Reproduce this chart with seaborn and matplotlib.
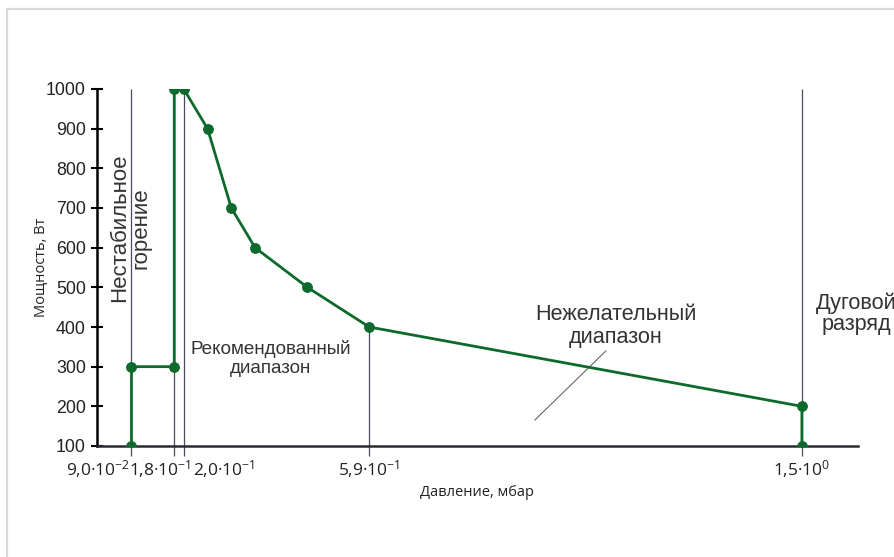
import matplotlib
matplotlib.use("Agg")
import matplotlib.pyplot as plt
import matplotlib.transforms as mtransforms
import seaborn as sns
import pandas as pd
from matplotlib.lines import Line2D

# ---- data ----
pressure = [0.09, 0.09, 0.18, 0.18, 0.20, 0.25, 0.30, 0.35, 0.46, 0.59, 1.50, 1.50]
power = [100, 300, 300, 1000, 1000, 900, 700, 600, 500, 400, 200, 100]
xtick_values = [0.09, 0.18, 0.20, 0.59, 1.50]
xtick_labels = [r"9,0·$\mathregular{10^{-2}}$", r"1,8·$\mathregular{10^{-1}}$",
                r"2,0·$\mathregular{10^{-1}}$", r"5,9·$\mathregular{10^{-1}}$",
                r"1,5·$\mathregular{10^{0}}$"]
ytick_values = [100, 200, 300, 400, 500, 600, 700, 800, 900, 1000]
guide_x = [0.09, 0.18, 0.20, 0.59, 1.50]
guide_top = [1000, 1000, 1000, 400, 1000]

df = pd.DataFrame({"p": pressure, "w": power})

sns.set_theme(style="white")
plt.rcParams["font.family"] = ["Liberation Sans", "DejaVu Sans"]
plt.rcParams["mathtext.fontset"] = "custom"
plt.rcParams["mathtext.rm"] = "Open Sans"

fig = plt.figure(figsize=(8.94, 5.57), dpi=100)
ax = fig.add_axes([97 / 894, 1 - 446 / 557, (858 - 97) / 894, (446 - 89) / 557])

green = "#0d6a2c"
guide_col = "#4b4b5c"

ax.vlines(guide_x, [100] * len(guide_x), guide_top, color=guide_col, lw=0.9, zorder=1)

sns.lineplot(data=df, x="p", y="w", sort=False, estimator=None, ax=ax,
             color=green, lw=2.0, marker="o", markersize=7,
             markeredgecolor=green, markerfacecolor=green, zorder=3)

ax.set_xlim(0.0175, 1.618)
ax.set_ylim(100, 1000)

ax.set_yticks(ytick_values)
ax.set_yticklabels([str(v) for v in ytick_values], fontsize=12.8, color="#222222")
ax.set_xticks(xtick_values)
ax.set_xticklabels(xtick_labels, fontsize=12.5, color="#222222", family=["Open Sans", "DejaVu Sans"])
ax.tick_params(axis="y", direction="inout", length=8, width=1.5, color="black", left=True, pad=4)
ax.tick_params(axis="x", direction="out", length=7, width=0.9, color=guide_col, bottom=True, pad=2)

# shift crowded tick labels sideways (pixels)
shifts = [-33, -14, 40, 0, 0]
for lab, dx in zip(ax.get_xticklabels(), shifts):
    lab.set_transform(lab.get_transform() + mtransforms.ScaledTranslation(dx / 100, 0, fig.dpi_scale_trans))

for s in ["top", "right"]:
    ax.spines[s].set_visible(False)
for s in ["left", "bottom"]:
    ax.spines[s].set_color("black")
    ax.spines[s].set_linewidth(1.8)
ax.spines["bottom"].set_color("#2a2a33")

ax.set_xlabel("Давление, мбар", fontsize=10.5, family=["Open Sans", "DejaVu Sans"], color="#222222", labelpad=3)
ax.set_ylabel("Мощность, Вт", fontsize=10.5, family=["Open Sans", "DejaVu Sans"], color="#222222")
ax.yaxis.set_label_coords(-0.0636, 0.5)

txtc = "#333333"
ax.text(0.087, 650, "Нестабильное\nгорение", rotation=90, ha="center", va="center",
        fontsize=16, color=txtc, linespacing=1.0, multialignment="center")
ax.text(0.383, 320, "Рекомендованный\nдиапазон", ha="center", va="center",
        fontsize=13.6, color=txtc, linespacing=1.15, multialignment="center")
ax.text(1.109, 402, "Нежелательный\nдиапазон", ha="center", va="center",
        fontsize=15.6, color=txtc, linespacing=1.1, multialignment="center")
ax.text(1.615, 433, "Дуговой\nразряд", ha="center", va="center", clip_on=False,
        fontsize=15.6, color=txtc, linespacing=1.0, multialignment="center")
ax.plot([0.938, 1.088], [165, 340], color="#555555", lw=0.7, zorder=2)

# outer frame
fig.add_artist(Line2D([7 / 894, 7 / 894], [0, 1 - 9 / 557], transform=fig.transFigure, color="#d9d9d9", lw=1.6))
fig.add_artist(Line2D([7 / 894, 1], [1 - 9 / 557, 1 - 9 / 557], transform=fig.transFigure, color="#d9d9d9", lw=1.6))

fig.savefig("out.png", dpi=100)
